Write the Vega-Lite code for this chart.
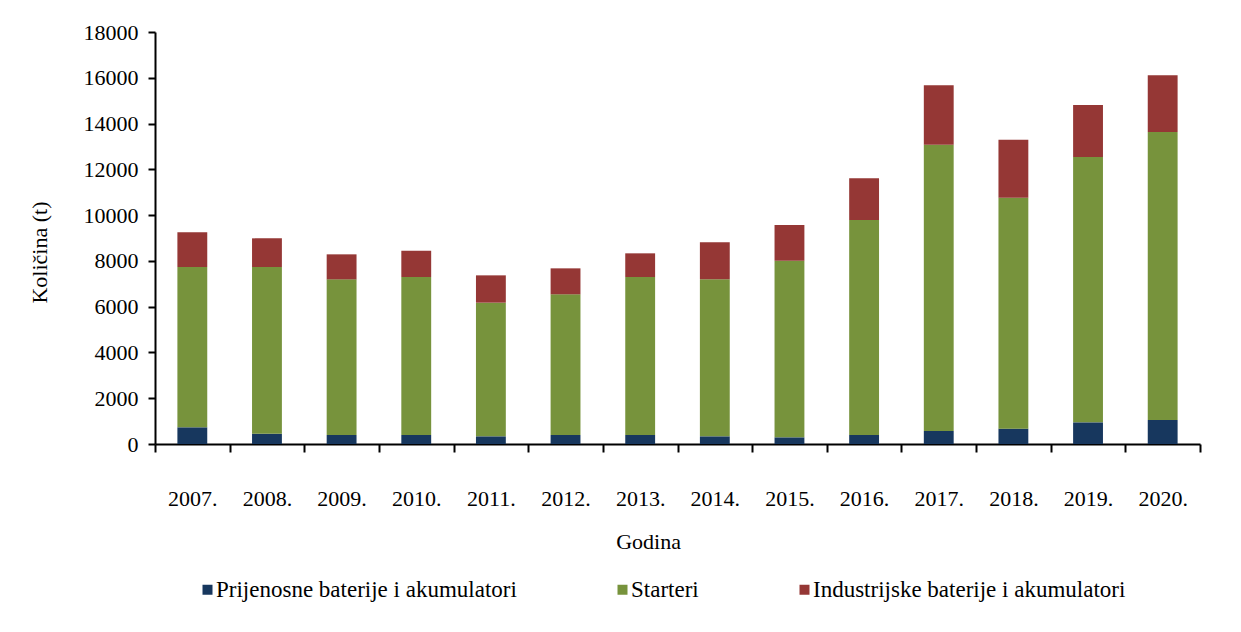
{
  "$schema": "https://vega.github.io/schema/vega-lite/v6.json",
  "width": 1045,
  "height": 412,
  "autosize": {"type": "none"},
  "padding": {"left": 155, "top": 32, "right": 41, "bottom": 188},
  "background": "white",
  "config": {
    "view": {"stroke": null},
    "font": "Liberation Serif",
    "text": {"font": "Liberation Serif"},
    "legend": {"labelFont": "Liberation Serif", "titleFont": "Liberation Serif"},
    "axis": {
      "domainColor": "black",
      "domainWidth": 2,
      "tickColor": "black",
      "tickWidth": 2,
      "labelColor": "black",
      "titleColor": "black",
      "labelFont": "Liberation Serif",
      "titleFont": "Liberation Serif",
      "labelFontSize": 22,
      "titleFontSize": 22,
      "titleFontWeight": "normal",
      "grid": false
    }
  },
  "data": {
    "values": [
      {"godina": "2007.", "vrsta": "Prijenosne baterije i akumulatori", "kolicina": 729},
      {"godina": "2007.", "vrsta": "Starteri", "kolicina": 7004},
      {"godina": "2007.", "vrsta": "Industrijske baterije i akumulatori", "kolicina": 1516},
      {"godina": "2008.", "vrsta": "Prijenosne baterije i akumulatori", "kolicina": 451},
      {"godina": "2008.", "vrsta": "Starteri", "kolicina": 7282},
      {"godina": "2008.", "vrsta": "Industrijske baterije i akumulatori", "kolicina": 1252},
      {"godina": "2009.", "vrsta": "Prijenosne baterije i akumulatori", "kolicina": 393},
      {"godina": "2009.", "vrsta": "Starteri", "kolicina": 6800},
      {"godina": "2009.", "vrsta": "Industrijske baterije i akumulatori", "kolicina": 1093},
      {"godina": "2010.", "vrsta": "Prijenosne baterije i akumulatori", "kolicina": 393},
      {"godina": "2010.", "vrsta": "Starteri", "kolicina": 6903},
      {"godina": "2010.", "vrsta": "Industrijske baterije i akumulatori", "kolicina": 1150},
      {"godina": "2011.", "vrsta": "Prijenosne baterije i akumulatori", "kolicina": 335},
      {"godina": "2011.", "vrsta": "Starteri", "kolicina": 5839},
      {"godina": "2011.", "vrsta": "Industrijske baterije i akumulatori", "kolicina": 1194},
      {"godina": "2012.", "vrsta": "Prijenosne baterije i akumulatori", "kolicina": 393},
      {"godina": "2012.", "vrsta": "Starteri", "kolicina": 6147},
      {"godina": "2012.", "vrsta": "Industrijske baterije i akumulatori", "kolicina": 1134},
      {"godina": "2013.", "vrsta": "Prijenosne baterije i akumulatori", "kolicina": 393},
      {"godina": "2013.", "vrsta": "Starteri", "kolicina": 6903},
      {"godina": "2013.", "vrsta": "Industrijske baterije i akumulatori", "kolicina": 1034},
      {"godina": "2014.", "vrsta": "Prijenosne baterije i akumulatori", "kolicina": 335},
      {"godina": "2014.", "vrsta": "Starteri", "kolicina": 6858},
      {"godina": "2014.", "vrsta": "Industrijske baterije i akumulatori", "kolicina": 1618},
      {"godina": "2015.", "vrsta": "Prijenosne baterije i akumulatori", "kolicina": 291},
      {"godina": "2015.", "vrsta": "Starteri", "kolicina": 7718},
      {"godina": "2015.", "vrsta": "Industrijske baterije i akumulatori", "kolicina": 1558},
      {"godina": "2016.", "vrsta": "Prijenosne baterije i akumulatori", "kolicina": 393},
      {"godina": "2016.", "vrsta": "Starteri", "kolicina": 9393},
      {"godina": "2016.", "vrsta": "Industrijske baterije i akumulatori", "kolicina": 1821},
      {"godina": "2017.", "vrsta": "Prijenosne baterije i akumulatori", "kolicina": 568},
      {"godina": "2017.", "vrsta": "Starteri", "kolicina": 12508},
      {"godina": "2017.", "vrsta": "Industrijske baterije i akumulatori", "kolicina": 2594},
      {"godina": "2018.", "vrsta": "Prijenosne baterije i akumulatori", "kolicina": 670},
      {"godina": "2018.", "vrsta": "Starteri", "kolicina": 10090},
      {"godina": "2018.", "vrsta": "Industrijske baterije i akumulatori", "kolicina": 2534},
      {"godina": "2019.", "vrsta": "Prijenosne baterije i akumulatori", "kolicina": 946},
      {"godina": "2019.", "vrsta": "Starteri", "kolicina": 11592},
      {"godina": "2019.", "vrsta": "Industrijske baterije i akumulatori", "kolicina": 2272},
      {"godina": "2020.", "vrsta": "Prijenosne baterije i akumulatori", "kolicina": 1048},
      {"godina": "2020.", "vrsta": "Starteri", "kolicina": 12582},
      {"godina": "2020.", "vrsta": "Industrijske baterije i akumulatori", "kolicina": 2477}
    ]
  },
  "transform": [
    {"calculate": "indexof(['Prijenosne baterije i akumulatori', 'Starteri', 'Industrijske baterije i akumulatori'], datum.vrsta)", "as": "redoslijed"}
  ],
  "mark": {"type": "bar", "width": {"band": 0.4}},
  "encoding": {
    "x": {
      "field": "godina",
      "type": "nominal",
      "scale": {"paddingInner": 0, "paddingOuter": 0},
      "axis": {
        "title": "Godina",
        "titleX": 493,
        "titleY": 97,
        "titleBaseline": "middle",
        "labelAngle": 0,
        "labelPadding": 46,
        "labelBaseline": "middle",
        "tickBand": "extent",
        "tickSize": 8
      }
    },
    "y": {
      "field": "kolicina",
      "type": "quantitative",
      "stack": "zero",
      "scale": {"domain": [0, 18000], "nice": false},
      "axis": {
        "title": "Količina  (t)",
        "titleX": -116,
        "titleY": 220,
        "titleAngle": -90,
        "titleBaseline": "middle",
        "values": [0, 2000, 4000, 6000, 8000, 10000, 12000, 14000, 16000, 18000],
        "format": "d",
        "tickSize": 7,
        "labelPadding": 10
      }
    },
    "order": {"field": "redoslijed", "type": "quantitative", "sort": "ascending"},
    "color": {
      "field": "vrsta",
      "type": "nominal",
      "sort": ["Prijenosne baterije i akumulatori", "Starteri", "Industrijske baterije i akumulatori"],
      "scale": {
        "domain": ["Prijenosne baterije i akumulatori", "Starteri", "Industrijske baterije i akumulatori"],
        "range": ["#17375E", "#77933C", "#953735"]
      },
      "legend": {
        "orient": "none",
        "legendX": 41,
        "legendY": 546,
        "padding": 0,
        "direction": "horizontal",
        "title": null,
        "symbolType": "square",
        "symbolSize": 100,
        "symbolStrokeWidth": 0,
        "labelFont": "Liberation Serif",
        "labelFontSize": 23,
        "labelColor": "black",
        "labelOffset": -3,
        "labelLimit": 500,
        "columnPadding": 94
      }
    }
  }
}
